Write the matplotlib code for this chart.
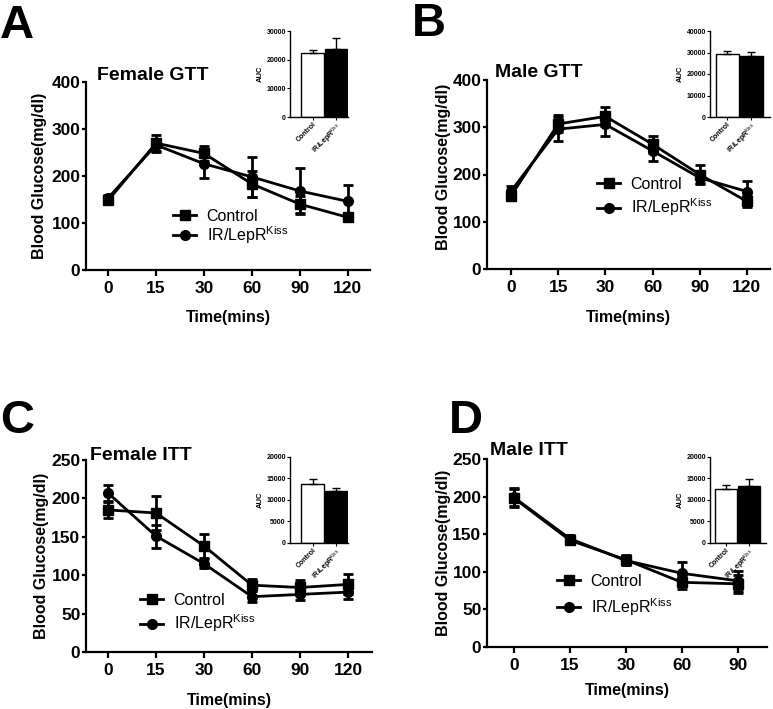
import matplotlib
matplotlib.use("Agg")
import matplotlib.pyplot as plt
import numpy as np

plt.rcParams['font.family'] = ['Liberation Sans', 'DejaVu Sans']
plt.rcParams['mathtext.fontset'] = 'custom'
plt.rcParams['mathtext.rm'] = 'Liberation Sans'
plt.rcParams['mathtext.it'] = 'Liberation Sans:italic'
plt.rcParams['mathtext.bf'] = 'Liberation Sans:bold'

# ---------------- data ----------------
gtt_times = ["0", "15", "30", "60", "90", "120"]
itt_f_times = ["0", "15", "30", "60", "90", "120"]
itt_m_times = ["0", "15", "30", "60", "90"]

fgtt_ctrl = [148, 270, 248, 183, 140, 112]
fgtt_ctrl_err = [8, 18, 16, 28, 18, 8]
fgtt_ir = [153, 266, 226, 198, 168, 146]
fgtt_ir_err = [6, 12, 30, 42, 48, 34]

mgtt_ctrl = [155, 307, 323, 264, 200, 143]
mgtt_ctrl_err = [10, 18, 20, 18, 20, 12]
mgtt_ir = [165, 296, 306, 250, 193, 164]
mgtt_ir_err = [10, 25, 25, 22, 12, 22]

fitt_ctrl = [185, 181, 138, 87, 84, 88]
fitt_ctrl_err = [10, 22, 15, 8, 10, 13]
fitt_ir = [207, 151, 115, 72, 75, 78]
fitt_ir_err = [11, 15, 6, 7, 7, 9]

mitt_ctrl = [198, 142, 116, 86, 84]
mitt_ctrl_err = [12, 5, 6, 9, 12]
mitt_ir = [199, 144, 115, 98, 88]
mitt_ir_err = [12, 5, 6, 15, 13]

auc_groups = ["Control", "IR/LepR$^{\\mathrm{Kiss}}$"]
auc_fgtt = [22200, 23600]
auc_fgtt_err = [1100, 3900]
auc_mgtt = [29300, 28400]
auc_mgtt_err = [1500, 1700]
auc_fitt = [13650, 12000]
auc_fitt_err = [1100, 800]
auc_mitt = [12400, 13200]
auc_mitt_err = [1000, 1700]

W, H = 773, 709
fig = plt.figure(figsize=(W / 100, H / 100), dpi=100)


def fr(l, t, r, b):
    return [l / W, 1 - b / H, (r - l) / W, (b - t) / H]


def main_panel(rect, cats, ctrl, ctrl_err, ir, ir_err, ymax, ystep, xlim,
               title, title_xy, letter, letter_xy, ylab_x, ylab_y, xlab_y, leg_xy, leg_sp):
    ax = fig.add_axes(fr(*rect))
    x = np.arange(len(cats))
    c1 = ax.errorbar(x, ctrl, yerr=ctrl_err, color='black', marker='s', ms=7,
                     lw=2, elinewidth=2, capsize=3.5, capthick=2)
    c2 = ax.errorbar(x, ir, yerr=ir_err, color='black', marker='o', ms=7,
                     lw=2, elinewidth=2, capsize=3.5, capthick=2)
    ax.set_xlim(*xlim)
    ax.set_ylim(0, ymax)
    ax.set_xticks(x)
    ax.set_xticklabels(cats)
    ax.set_yticks(np.arange(0, ymax + 1, ystep))
    for s in ['top', 'right']:
        ax.spines[s].set_visible(False)
    for s in ['left', 'bottom']:
        ax.spines[s].set_linewidth(1.6)
    ax.tick_params(axis='both', width=1.6, labelsize=12.5)
    ax.tick_params(axis='x', length=4, pad=4)
    ax.tick_params(axis='y', length=3, pad=1)
    for lab in ax.get_xticklabels() + ax.get_yticklabels():
        lab.set_fontweight('bold')
    ax.set_ylabel('Blood Glucose(mg/dl)', fontsize=11.5, fontweight='bold')
    ax.yaxis.set_label_coords(ylab_x, ylab_y)
    ax.yaxis.label.set_verticalalignment('center')
    ax.set_xlabel('Time(mins)', fontsize=11.5, fontweight='bold')
    ax.xaxis.set_label_coords(0.5, xlab_y)
    ax.xaxis.label.set_verticalalignment('center')
    fig.text(title_xy[0] / W, 1 - title_xy[1] / H, title, fontsize=14,
             fontweight='bold', ha='left', va='baseline')
    fig.text(letter_xy[0] / W, 1 - letter_xy[1] / H, letter, fontsize=34,
             fontweight='bold', ha='left', va='baseline')
    ax.legend([c1[0], c2[0]], ['Control', 'IR/LepR$^{\\mathrm{Kiss}}$'],
              loc='upper left', bbox_to_anchor=(leg_xy[0] / W, 1 - leg_xy[1] / H),
              bbox_transform=fig.transFigure, frameon=False, fontsize=11.5,
              borderpad=0, borderaxespad=0, handlelength=1.45,
              handletextpad=0.65, labelspacing=leg_sp)
    return ax


def inset(rect, vals, errs, ymax, ystep, xlim):
    ax = fig.add_axes(fr(*rect))
    x = np.arange(len(vals))
    ax.bar(x, vals, width=0.96, color=['white', 'black'], edgecolor='black',
           linewidth=1.0)
    ax.errorbar(x, vals, yerr=[[0, 0], errs], fmt='none', ecolor='black',
                elinewidth=1.0, capsize=3, capthick=1.0)
    ax.set_xlim(*xlim)
    ax.set_ylim(0, ymax)
    ax.set_yticks(np.arange(0, ymax + 1, ystep))
    ax.set_xticks(x)
    ax.set_xticklabels(auc_groups, rotation=45, ha='right', rotation_mode='anchor')
    for s in ['top', 'right']:
        ax.spines[s].set_visible(False)
    for s in ['left', 'bottom']:
        ax.spines[s].set_linewidth(1.0)
    ax.tick_params(axis='both', width=0.8, length=2, pad=1, labelsize=5)
    for lab in ax.get_xticklabels() + ax.get_yticklabels():
        lab.set_fontweight('bold')
    ax.set_ylabel('AUC', fontsize=5.5, fontweight='bold', labelpad=2)
    return ax


main_panel((86, 82, 370, 270), gtt_times, fgtt_ctrl, fgtt_ctrl_err, fgtt_ir, fgtt_ir_err,
           400, 100, (-0.46, 5.46), 'Female GTT', (97, 80), 'A', (0, 38),
           -0.162, 0.5, -0.255, (173, 209), 0.0)
main_panel((487, 80, 770, 269), gtt_times, mgtt_ctrl, mgtt_ctrl_err, mgtt_ir, mgtt_ir_err,
           400, 100, (-0.51, 5.49), 'Male GTT', (495, 77), 'B', (412, 36),
           -0.155, 0.54, -0.257, (597, 177), 0.3)
main_panel((86, 460, 372, 652), itt_f_times, fitt_ctrl, fitt_ctrl_err, fitt_ir, fitt_ir_err,
           250, 50, (-0.458, 5.5), 'Female ITT', (90, 460), 'C', (0, 433),
           -0.154, 0.5, -0.25, (140, 593), 0.3)
main_panel((487, 459, 767, 647), itt_m_times, mitt_ctrl, mitt_ctrl_err, mitt_ir, mitt_ir_err,
           250, 50, (-0.48, 4.52), 'Male ITT', (490, 455), 'D', (449, 433),
           -0.154, 0.5, -0.231, (557, 574), 0.45)

inset((290, 31, 348, 117), auc_fgtt, auc_fgtt_err, 30000, 10000, (-0.94, 1.48))
inset((710, 31, 770, 117), auc_mgtt, auc_mgtt_err, 40000, 10000, (-0.71, 1.79))
inset((290, 456.7, 348, 542.7), auc_fitt, auc_fitt_err, 20000, 5000, (-0.94, 1.48))
inset((710, 456.7, 766, 542.7), auc_mitt, auc_mitt_err, 20000, 5000, (-0.71, 1.75))

fig.savefig('out.png', dpi=100)
